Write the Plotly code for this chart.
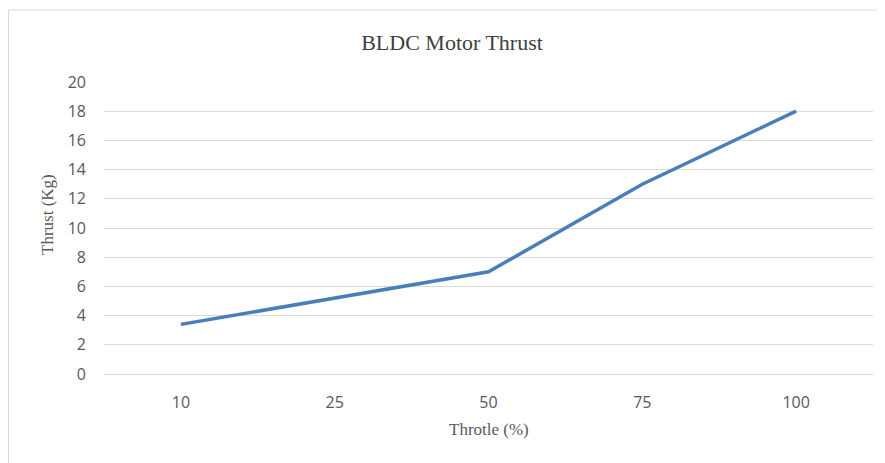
import plotly.graph_objects as go

throttle = ["10", "25", "50", "75", "100"]
thrust = [3.4, 5.2, 7.0, 13.0, 18.0]
y_ticks = [0, 2, 4, 6, 8, 10, 12, 14, 16, 18, 20]

# page has an 8px body margin; figure coords = page coords - 8
OFF = 8
W, H = 885 - OFF, 463 - OFF
L, T = 104 - OFF, 82 - OFF
R = W - (873 - OFF)
B = H - (374 - OFF)
pw = W - L - R
ph = H - T - B

def px_x(p):
    return (p - OFF - L) / pw

def px_y(p):
    return (H - B - (p - OFF)) / ph

fig = go.Figure()
fig.add_trace(go.Scatter(
    x=throttle, y=thrust, mode="lines",
    line=dict(color="#4A7EBB", width=3.5),
    hoverinfo="skip", showlegend=False,
))

axis_font = dict(family="Liberation Serif", size=17, color="#595959")

fig.update_layout(
    width=W, height=H,
    margin=dict(l=L, r=R, t=T, b=B),
    paper_bgcolor="white", plot_bgcolor="white",
    title=dict(text="BLDC Motor Thrust", x=(452 - OFF) / W, xanchor="center",
               y=1 - (42 - OFF) / H, yanchor="middle",
               font=dict(family="Liberation Serif", size=22, color="#404040")),
    xaxis=dict(type="category", range=[-0.5, 4.5], showgrid=False, showline=False, zeroline=False,
               ticks="", ticklabelstandoff=17,
               tickfont=dict(family="Open Sans", size=16, color="#595959")),
    yaxis=dict(range=[0, 20], tickvals=y_ticks, showgrid=True, gridcolor="#D9D9D9", gridwidth=1,
               zeroline=True, zerolinecolor="#D9D9D9", zerolinewidth=1, showline=False, ticks="",
               ticklabelstandoff=17,
               tickfont=dict(family="Open Sans", size=16, color="#595959")),
    annotations=[
        dict(text="Throtle (%)", xref="paper", yref="paper", x=px_x(489), y=px_y(430),
             xanchor="center", yanchor="middle", showarrow=False, font=axis_font),
        dict(text="Thrust (Kg)", xref="paper", yref="paper", x=px_x(47), y=px_y(215),
             xanchor="center", yanchor="middle", showarrow=False, textangle=-90, font=axis_font),
    ],
    shapes=[dict(type="rect", xref="paper", yref="paper",
                 x0=px_x(8.5), x1=px_x(880), y0=px_y(10), y1=px_y(480),
                 line=dict(color="#D9D9D9", width=1), fillcolor="rgba(0,0,0,0)", layer="below")],
)

fig.write_html("out.html")
